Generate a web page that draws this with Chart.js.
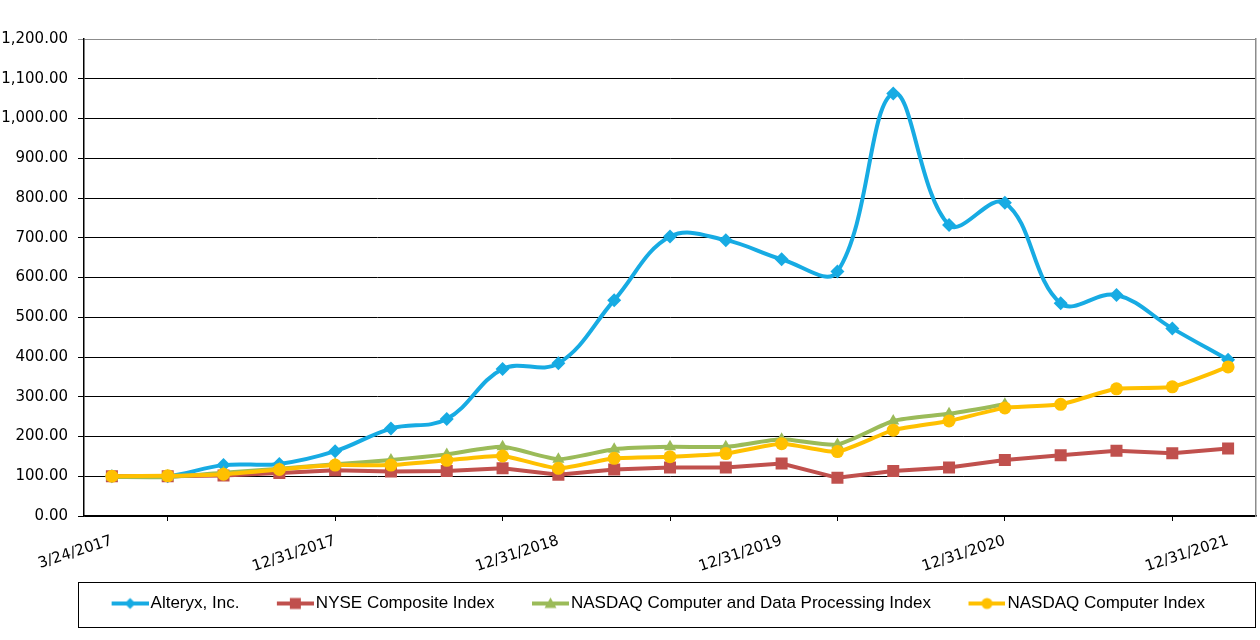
<!DOCTYPE html>
<html>
<head>
<meta charset="utf-8">
<script src="https://cdn.jsdelivr.net/npm/chart.js@4"></script>
<style>
html,body{margin:0;padding:0;background:#fff;}
#wrap{width:1260px;height:640px;position:relative;}
</style>
</head>
<body>
<div id="wrap"><canvas id="c" width="1260" height="640"></canvas></div>
<script>
const dates = ["3/24/2017","3/31/2017","6/30/2017","9/30/2017","12/31/2017","3/31/2018","6/30/2018","9/30/2018","12/31/2018","3/31/2019","6/30/2019","9/30/2019","12/31/2019","3/31/2020","6/30/2020","9/30/2020","12/31/2020","3/31/2021","6/30/2021","9/30/2021","12/31/2021"];
const alteryx = [100,100,128,131,163,220,244,370,384,543,703,694,646,615,1063,732,788,535,556,472,393];
const nyse = [100,100,102,108,115,112,113,120,104,117,122,122,132,96,113,122,141,153,164,158,170];
const nasdaqCDP = [98,98,109,119,130,141,155,174,143,168,174,174,193,180,239,257,281,null,null,null,null];
const nasdaqComp = [100,101,105,117,128,128,140,151,120,145,149,157,182,162,216,239,272,281,320,325,375];
const seriesNames = ["Alteryx, Inc.","NYSE Composite Index","NASDAQ Computer and Data Processing Index","NASDAQ Computer Index"];
const yTicks = [0,100,200,300,400,500,600,700,800,900,1000,1100,1200];

const colors = ['#17ABE3','#C0504D','#9BBB59','#FFC000'];
const styles = ['rectRot','rect','triangle','circle'];
const radii = [7,8.5,7,6.5];

const BOXW = 58;
// legend icon: transparent left part, then a 37px line with the marker in its middle
function legendIcon(i){
  const cv = document.createElement('canvas');
  const w = BOXW + 13;
  cv.width = w; cv.height = 16;
  const c = cv.getContext('2d');
  c.strokeStyle = colors[i]; c.fillStyle = colors[i]; c.lineWidth = 4;
  c.beginPath(); c.moveTo(w - 37, 8); c.lineTo(w, 8); c.stroke();
  const x = w - 18.5, y = 8;
  c.beginPath();
  if (styles[i]==='rectRot'){ c.moveTo(x,y-5.5);c.lineTo(x+5.5,y);c.lineTo(x,y+5.5);c.lineTo(x-5.5,y);c.closePath(); }
  else if (styles[i]==='rect'){ c.rect(x-5.5,y-5.5,11,11); }
  else if (styles[i]==='triangle'){ c.moveTo(x,y-6);c.lineTo(x+6,y+4.5);c.lineTo(x-6,y+4.5);c.closePath(); }
  else { c.arc(x,y,5.5,0,Math.PI*2); }
  c.fill();
  return cv;
}
const icons = [0,1,2,3].map(legendIcon);

const data = [alteryx, nyse, nasdaqCDP, nasdaqComp];
const tensions = [0.38,0,0.2,0.2];
const orders = [3,2,1,0];

const datasets = data.map((d,i)=>({
  label: seriesNames[i],
  data: d,
  borderColor: colors[i],
  backgroundColor: colors[i],
  borderWidth: 4,
  pointStyle: styles[i],
  pointRadius: radii[i],
  pointHoverRadius: radii[i],
  pointBackgroundColor: colors[i],
  pointBorderColor: colors[i],
  pointBorderWidth: 0,
  tension: tensions[i],
  spanGaps: false,
  order: orders[i],
  fill: false
}));

const LEGEND_SHIFT = 16;
const legendFrame = {
  id: 'legendFrame',
  afterLayout(chart){
    const lg = chart.legend;
    if (lg) { lg.left += LEGEND_SHIFT; lg.right += LEGEND_SHIFT; }
  },
  afterDraw(chart){
    const lg = chart.legend, ca = chart.chartArea;
    if (!lg) return;
    const cy = lg.top + lg.options.labels.padding + 8.5;
    const ctx = chart.ctx;
    ctx.save();
    ctx.strokeStyle = '#000'; ctx.lineWidth = 1;
    ctx.strokeRect(Math.round(ca.left - 6) + 0.5, Math.round(cy - 22) + 0.5, Math.round(ca.right - ca.left + 5), 45);
    ctx.restore();
  }
};

Chart.defaults.font.family = "'Liberation Sans', Arial, sans-serif";
Chart.defaults.color = '#000';

new Chart(document.getElementById('c'), {
  type: 'line',
  data: { labels: dates, datasets },
  plugins: [legendFrame],
  options: {
    responsive: false,
    animation: false,
    devicePixelRatio: 1,
    layout: { autoPadding: false, padding: { top: 39, right: 4, left: 1, bottom: 18 } },
    plugins: {
      tooltip: { enabled: false },
      legend: {
        position: 'bottom',
        labels: {
          font: { size: 17, family: "'Liberation Sans', Arial, sans-serif" },
          color: '#000',
          padding: 10,
          usePointStyle: true,
          pointStyleWidth: BOXW,
          generateLabels(chart){
            return chart.data.datasets.map((ds,i)=>({
              text: ds.label,
              fillStyle: colors[i],
              strokeStyle: colors[i],
              lineWidth: 0,
              pointStyle: icons[i],
              hidden: false,
              datasetIndex: i,
              fontColor: '#000'
            }));
          }
        }
      }
    },
    scales: {
      x: {
        type: 'category',
        offset: true,
        afterFit(scale){ scale.height = 69; scale.paddingLeft = 0; scale.paddingRight = 0; },
        grid: {
          offset: false,
          drawOnChartArea: false,
          drawTicks: true,
          tickLength: 5,
          color: (ctx)=> (ctx.index % 3 === 1 ? '#000' : 'rgba(0,0,0,0)'),
          lineWidth: 1
        },
        border: { color: '#000', width: 1.5 },
        ticks: {
          autoSkip: false,
          minRotation: 18,
          maxRotation: 18,
          padding: 11,
          font: { size: 15, family: "'DejaVu Sans', sans-serif" },
          color: '#000',
          callback: function(v, i){ return i % 4 === 0 ? dates[i] : ''; }
        }
      },
      y: {
        min: 0, max: 1200,
        afterFit(scale){ scale.width = 83; },
        afterBuildTicks(scale){ scale.ticks = yTicks.map(v=>({value:v})); },
        grid: {
          color: (ctx)=> (ctx.tick && ctx.tick.value === 1200 ? '#8c8c8c' : '#000'),
          lineWidth: 1,
          tickLength: 6,
          drawTicks: true
        },
        border: { color: '#000', width: 1.5 },
        ticks: {
          padding: 10,
          font: { size: 15, family: "'DejaVu Sans', sans-serif" },
          color: '#000',
          callback: (v)=> Number(v).toLocaleString('en-US',{minimumFractionDigits:2, maximumFractionDigits:2})
        }
      },
      y2: {
        position: 'right',
        min: 0, max: 1200,
        afterFit(scale){ scale.width = 0; },
        grid: { drawOnChartArea: false, drawTicks: false },
        border: { color: '#8c8c8c', width: 1.5 },
        ticks: { display: false }
      }
    }
  }
});
</script>
</body>
</html>
